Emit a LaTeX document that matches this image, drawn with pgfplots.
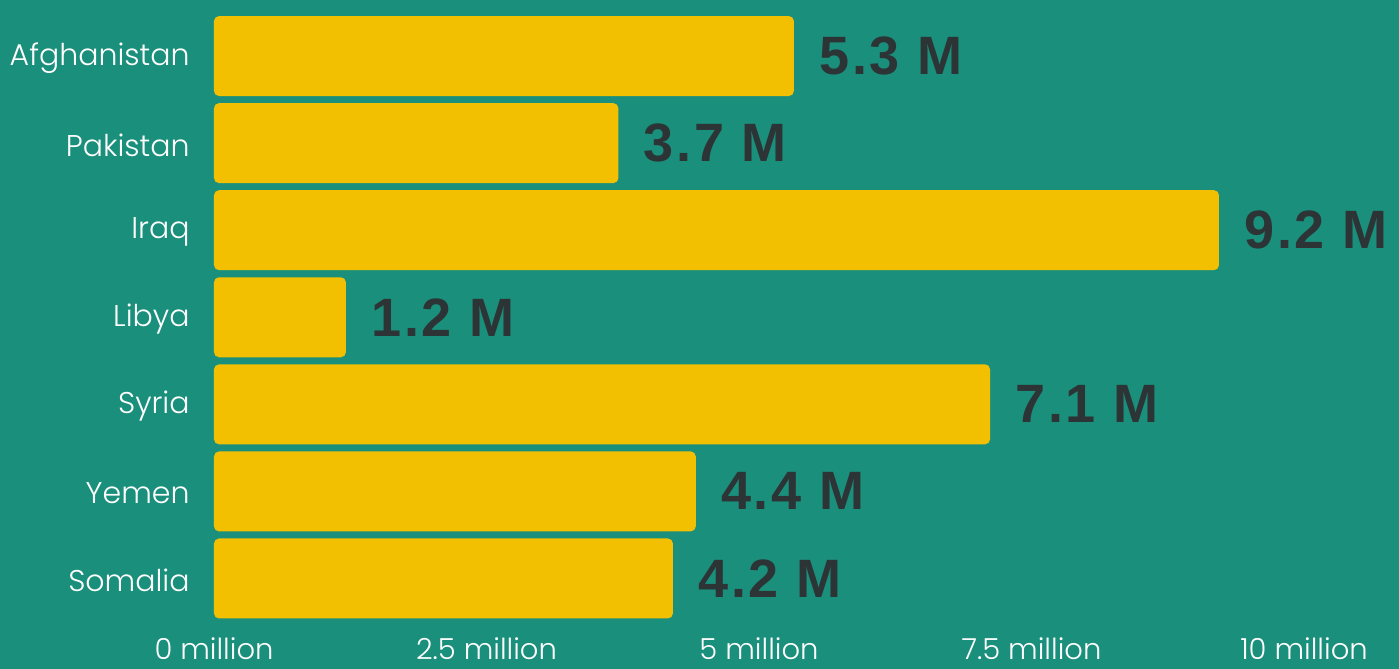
\documentclass[border=0pt]{standalone}
\usepackage{pgfplots}
\pgfplotsset{compat=1.18}
\usepackage{fontspec}
\setmainfont{Poppins}[UprightFont=* Light]
\newfontfamily\valfont[LetterSpace=5]{Liberation Sans}
\definecolor{bg}{HTML}{1A8F7B}
\definecolor{barc}{HTML}{F2C000}
\definecolor{valc}{HTML}{2D3436}
\begin{document}
\begin{tikzpicture}[x=1pt,y=1pt]
\fill[bg] (0,0) rectangle (699.5,334.5);
\useasboundingbox (0,0) rectangle (699.5,334.5);
\begin{axis}[
  at={(107pt,23.5pt)}, anchor=south west,
  scale only axis, width=545pt, height=304.75pt,
  xmin=0, xmax=10, ymin=-0.5, ymax=6.5, y dir=reverse,
  enlargelimits=false, clip=false,
  axis line style={draw=none}, major tick length=0pt, tick style={draw=none},
  xbar, bar width=40pt,
  ytick={0,...,6},
  yticklabels={Afghanistan,Pakistan,Iraq,Libya,Syria,Yemen,Somalia},
  xtick={0,2.5,5,7.5,10},
  xticklabels={0 million,2.5 million,5 million,7.5 million,10 million},
  ticklabel style={white},
  yticklabel style={inner sep=0pt, xshift=-12pt, yshift=-1pt, font=\fontsize{15}{18}\selectfont},
  xticklabel style={inner sep=0pt, yshift=-7.5pt, font=\fontsize{14.5}{17}\selectfont},
  nodes near coords,
  point meta=explicit symbolic,
  nodes near coords style={anchor=west, inner sep=0pt, xshift=12.5pt,
    font=\valfont\bfseries\fontsize{27}{30}\selectfont, text=valc},
]
\addplot[fill=barc, draw=none, rounded corners=2.5pt] table[x=x, y=y, meta=label] {
y x label
0 5.32 {5.3 M}
1 3.71 {3.7 M}
2 9.22 {9.2 M}
3 1.21 {1.2 M}
4 7.12 {7.1 M}
5 4.42 {4.4 M}
6 4.21 {4.2 M}
};
\end{axis}
\end{tikzpicture}
\end{document}
